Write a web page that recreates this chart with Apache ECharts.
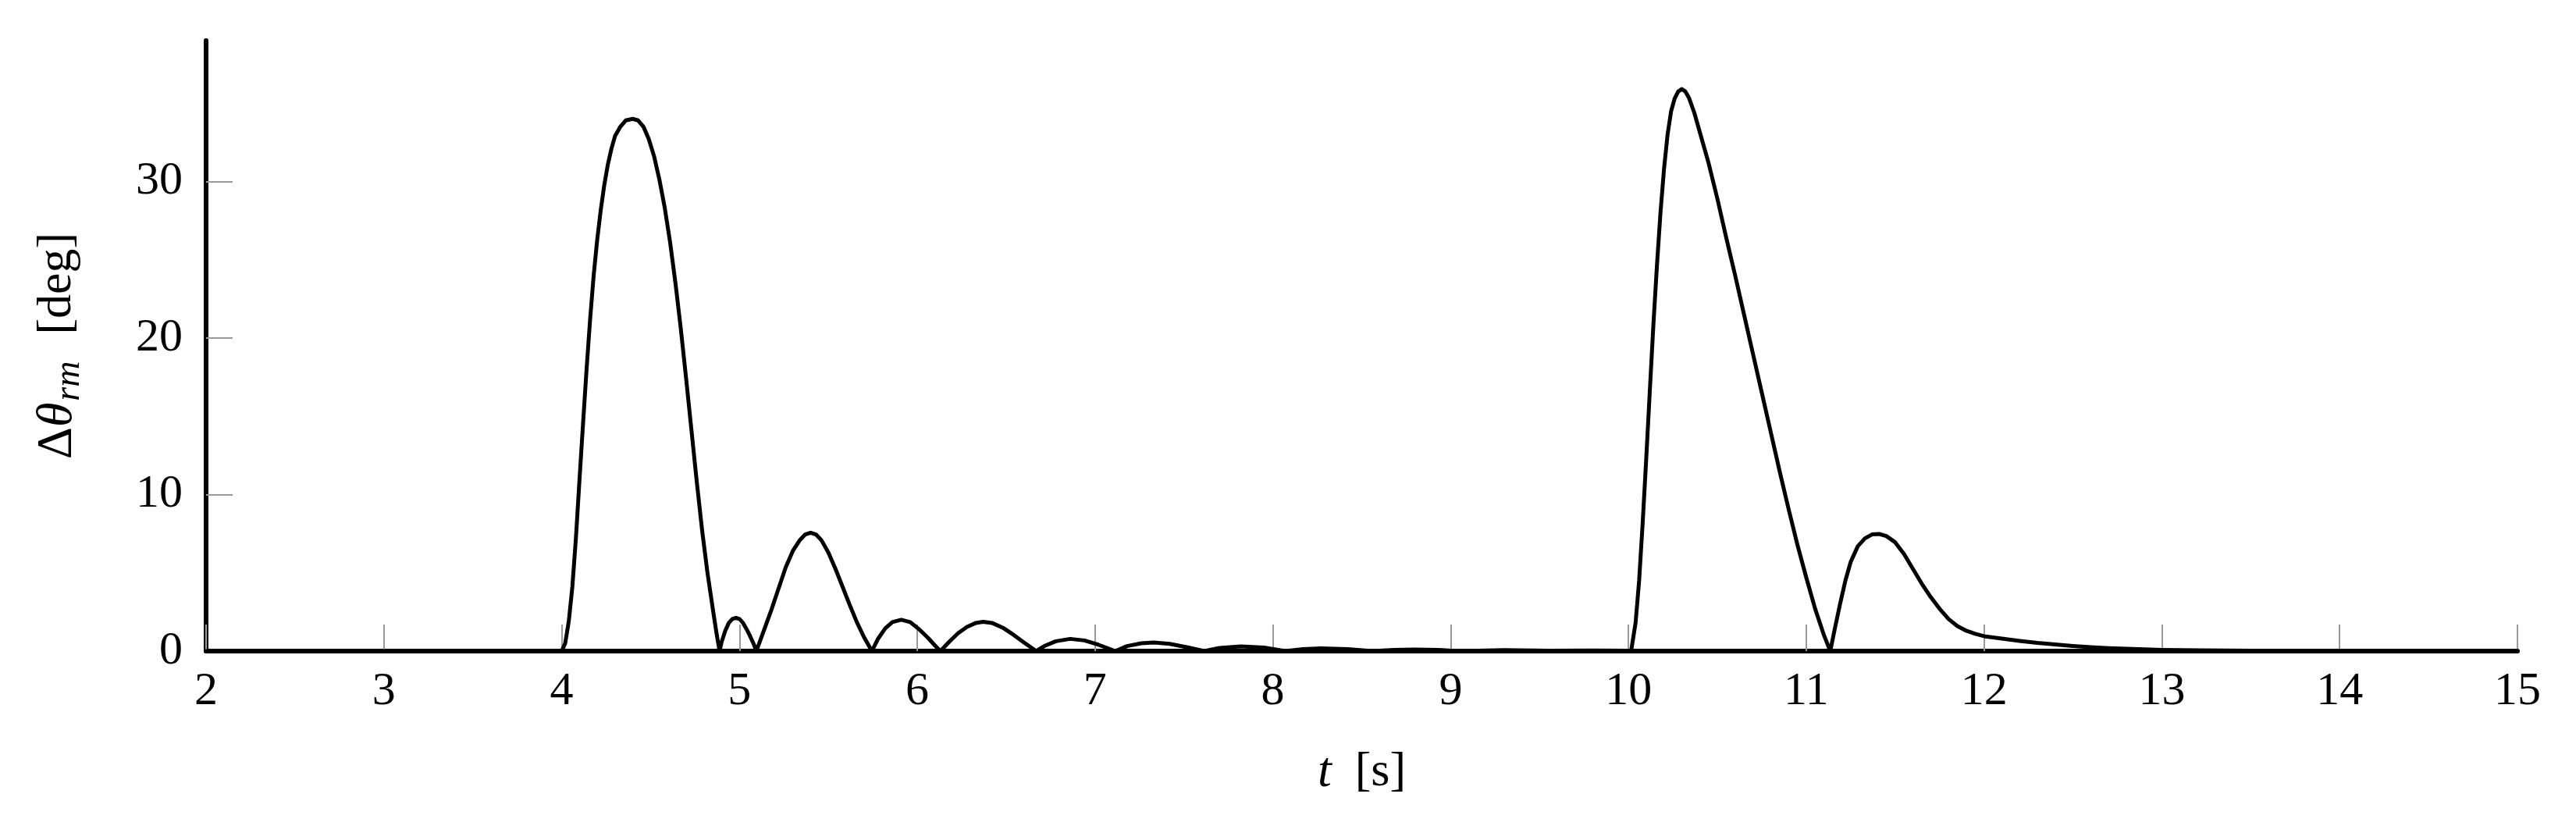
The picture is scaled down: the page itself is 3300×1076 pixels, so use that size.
<!DOCTYPE html>
<html>
<head>
<meta charset="utf-8">
<script src="https://cdn.jsdelivr.net/npm/echarts@6/dist/echarts.min.js"></script>
<style>
html,body{margin:0;padding:0;background:#fff;}
#chart{width:3300px;height:1076px;}
</style>
</head>
<body>
<div id="chart"></div>
<script>
// time [s]
const tValues = [
  2, 4.00, 4.02, 4.04, 4.06, 4.08, 4.10, 4.12, 4.14, 4.16, 4.18, 4.20, 4.22, 4.24, 4.26, 4.28, 4.30, 4.33, 4.36, 4.40,
  4.43, 4.46, 4.49, 4.52, 4.55, 4.58, 4.61, 4.64, 4.67, 4.70, 4.73, 4.76, 4.79, 4.82, 4.85, 4.87, 4.888,
  4.90, 4.92, 4.94, 4.96, 4.98, 5.00, 5.02, 5.04, 5.06, 5.08, 5.095,
  5.14, 5.18, 5.22, 5.26, 5.30, 5.34, 5.37, 5.40, 5.43, 5.46, 5.50, 5.54, 5.58, 5.62, 5.66, 5.70, 5.745,
  5.78, 5.82, 5.86, 5.91, 5.96, 6.01, 6.06, 6.10, 6.13,
  6.18, 6.23, 6.28, 6.33, 6.37, 6.42, 6.48, 6.54, 6.60, 6.669,
  6.72, 6.78, 6.86, 6.94, 7.02, 7.114,
  7.18, 7.26, 7.33, 7.42, 7.52, 7.614,
  7.70, 7.82, 7.95, 8.07,
  8.17, 8.27, 8.42, 8.56,
  8.68, 8.80, 8.93, 9.05,
  9.30, 9.55, 9.80, 10.0, 10.015,
  10.04, 10.06, 10.08, 10.10, 10.12, 10.14, 10.16, 10.18, 10.20, 10.22, 10.24, 10.26, 10.28, 10.30, 10.32, 10.34,
  10.37, 10.40, 10.45, 10.50, 10.55, 10.60, 10.65, 10.70, 10.75, 10.80, 10.85, 10.90, 10.95, 11.00, 11.05, 11.10, 11.135,
  11.16, 11.19, 11.22, 11.25, 11.29, 11.33, 11.37, 11.41, 11.45, 11.50, 11.55, 11.60, 11.65, 11.70, 11.75, 11.80,
  11.85, 11.90, 11.95, 12.00, 12.10, 12.20, 12.30, 12.40, 12.50, 12.60, 12.70, 12.80, 12.90, 13.00, 13.20, 13.50, 14.00, 15.00
];
// delta theta_rm [deg]
const thetaValues = [
  0, 0, 0.5, 1.9, 4.1, 7.2, 10.9, 14.5, 18.0, 21.2, 24.0, 26.3, 28.2, 29.8, 31.1, 32.1, 32.9, 33.5, 33.9, 34.0,
  33.9, 33.5, 32.7, 31.6, 30.1, 28.3, 26.1, 23.5, 20.6, 17.4, 14.1, 10.8, 7.7, 5.0, 2.7, 1.2, 0,
  0.6, 1.3, 1.8, 2.05, 2.12, 2.05, 1.8, 1.4, 0.95, 0.45, 0,
  1.4, 2.65, 4.0, 5.35, 6.4, 7.1, 7.45, 7.56, 7.45, 7.1, 6.3, 5.25, 4.1, 2.95, 1.85, 0.9, 0,
  0.8, 1.45, 1.85, 2.0, 1.85, 1.4, 0.85, 0.35, 0,
  0.6, 1.15, 1.55, 1.8, 1.87, 1.8, 1.5, 1.05, 0.55, 0,
  0.35, 0.63, 0.78, 0.68, 0.4, 0,
  0.32, 0.5, 0.55, 0.46, 0.24, 0,
  0.2, 0.3, 0.22, 0,
  0.13, 0.18, 0.12, 0,
  0.07, 0.1, 0.07, 0,
  0.06, 0.02, 0.04, 0.02, 0,
  1.8, 4.5, 8.2, 12.3, 16.6, 20.8, 24.6, 28.0, 30.8, 33.0, 34.5, 35.3, 35.75, 35.9, 35.75, 35.35,
  34.4, 33.2, 31.2, 28.9, 26.4, 24.0, 21.5, 19.0, 16.5, 14.0, 11.5, 9.1, 6.8, 4.7, 2.7, 1.0, 0,
  1.4, 3.0, 4.5, 5.7, 6.7, 7.2, 7.45, 7.48, 7.35, 6.95, 6.2, 5.25, 4.3, 3.45, 2.7, 2.05,
  1.6, 1.3, 1.1, 0.95, 0.8, 0.65, 0.52, 0.42, 0.33, 0.25, 0.19, 0.15, 0.11, 0.08, 0.05, 0.03, 0.02, 0.01
];
const yTicks = [0, 10, 20, 30];
const xTickLabels = [2, 3, 4, 5, 6, 7, 8, 9, 10, 11, 12, 13, 14, 15];

const FONT = 'Liberation Serif';
const seriesData = tValues.map((t, i) => [t, thetaValues[i]]);

const chart = echarts.init(document.getElementById('chart'), null, {renderer: 'canvas'});
chart.setOption({
  animation: false,
  backgroundColor: '#ffffff',
  grid: {left: 264, right: 75, top: 52, bottom: 242, containLabel: false},
  xAxis: {
    type: 'value',
    min: xTickLabels[0],
    max: xTickLabels[xTickLabels.length - 1],
    interval: 1,
    axisLine: {show: true, lineStyle: {color: '#000', width: 6, cap: 'round'}},
    axisTick: {show: true, inside: true, length: 34, lineStyle: {color: '#999', width: 2}},
    axisLabel: {margin: 22, fontSize: 60, color: '#000', fontFamily: FONT},
    splitLine: {show: false},
    name: '{t|t}{b|[s]}',
    nameLocation: 'middle',
    nameGap: 124,
    nameTextStyle: {
      fontFamily: FONT, fontSize: 62, color: '#000',
      rich: {
        t: {fontFamily: FONT, fontSize: 64, fontStyle: 'italic', color: '#000'},
        b: {fontFamily: FONT, fontSize: 62, color: '#000', padding: [0, 0, 0, 30]}
      }
    }
  },
  yAxis: {
    type: 'value',
    min: 0,
    max: 39,
    interval: 10,
    axisLine: {show: true, lineStyle: {color: '#000', width: 6, cap: 'round'}},
    axisTick: {show: true, inside: true, length: 34, customValues: yTicks, lineStyle: {color: '#999', width: 2}},
    axisLabel: {margin: 30, fontSize: 60, color: '#000', fontFamily: FONT, customValues: yTicks},
    splitLine: {show: false},
    name: '{d|Δ}{th|θ}{sub|rm}{b|[deg]}',
    nameLocation: 'middle',
    nameRotate: 90,
    nameGap: 152,
    nameTextStyle: {
      fontFamily: FONT, fontSize: 62, color: '#000',
      rich: {
        d: {fontFamily: FONT, fontSize: 64, color: '#000', lineHeight: 70},
        th: {fontFamily: FONT, fontSize: 64, fontStyle: 'italic', color: '#000', lineHeight: 70},
        sub: {fontFamily: FONT, fontSize: 46, fontStyle: 'italic', color: '#000', padding: [30, 0, 0, 2]},
        b: {fontFamily: FONT, fontSize: 62, color: '#000', padding: [0, 0, 0, 34], lineHeight: 70}
      }
    }
  },
  series: [{
    type: 'line',
    data: seriesData,
    showSymbol: false,
    symbol: 'none',
    smooth: false,
    lineStyle: {color: '#000', width: 5, join: 'round', cap: 'round'},
    z: 3
  }]
});
</script>
</body>
</html>
